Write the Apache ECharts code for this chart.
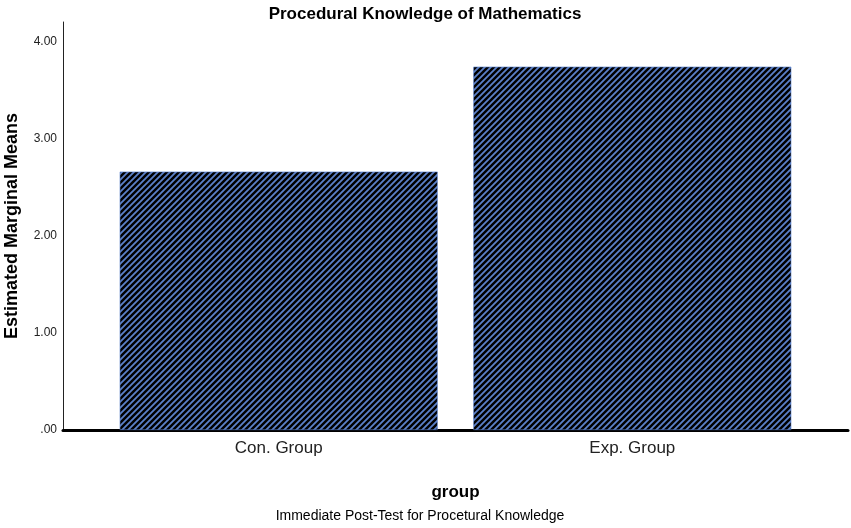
<!DOCTYPE html>
<html>
<head>
<meta charset="utf-8">
<script src="https://cdn.jsdelivr.net/npm/echarts@6/dist/echarts.min.js"></script>
<style>
  html, body { margin: 0; padding: 0; background: #fff; }
  #main { width: 851px; height: 528px; }
</style>
</head>
<body>
<div id="main"></div>
<script>
// data
var categories = ['Con. Group', 'Exp. Group']
var positions = [1, 2]
var means = [2.66, 3.74]
var yTicks = [0, 1, 2, 3, 4]

// hatch pattern for the bars ( "/" stripes, blue on black )
function stripePattern() {
  var t = 6
  var c = document.createElement('canvas')
  c.width = t
  c.height = t
  var ctx = c.getContext('2d')
  ctx.fillStyle = '#000'
  ctx.fillRect(0, 0, t, t)
  ctx.strokeStyle = '#5b80c9'
  ctx.lineWidth = 1.8
  ctx.beginPath()
  ctx.moveTo(-1, t + 1); ctx.lineTo(t + 1, -1)
  ctx.moveTo(-1, 1); ctx.lineTo(1, -1)
  ctx.moveTo(t - 1, t + 1); ctx.lineTo(t + 1, t - 1)
  ctx.stroke()
  return c
}

var font = '"Liberation Sans", Arial, sans-serif'
var chart = echarts.init(document.getElementById('main'))

var barData = []
for (var i = 0; i < positions.length; i++) {
  barData.push([positions[i], means[i]])
}

chart.setOption({
  animation: false,
  title: {
    text: 'Procedural Knowledge of Mathematics',
    left: 420,
    top: 1,
    textAlign: 'center',
    textStyle: { fontFamily: font, fontSize: 17, fontWeight: 'bold', color: '#000' }
  },
  graphic: [{
    type: 'text',
    x: 420,
    y: 509,
    style: {
      text: 'Immediate Post-Test for Procetural Knowledge',
      font: '14px ' + font,
      fill: '#000',
      textAlign: 'center'
    }
  }],
  grid: { left: 63, right: 3, top: 22, bottom: 98, outerBoundsMode: 'none', containLabel: false },
  xAxis: {
    type: 'value',
    min: 0.39,
    max: 2.61,
    name: 'group',
    nameLocation: 'middle',
    nameGap: 54,
    nameTextStyle: { fontFamily: font, fontSize: 17, fontWeight: 'bold', color: '#000' },
    splitLine: { show: false },
    axisTick: { show: false },
    axisLine: { show: true, lineStyle: { color: '#000', width: 3 } },
    axisLabel: {
      customValues: positions,
      margin: 10,
      fontFamily: font,
      fontSize: 17,
      color: '#222',
      formatter: function (v) { return categories[Math.round(v) - 1] }
    }
  },
  yAxis: {
    type: 'value',
    min: 0,
    max: 4.2,
    name: 'Estimated Marginal Means',
    nameLocation: 'middle',
    nameGap: 42,
    nameTextStyle: { fontFamily: font, fontSize: 18, fontWeight: 'bold', color: '#000' },
    splitLine: { show: false },
    axisTick: { show: false },
    axisLine: { show: true, lineStyle: { color: '#222', width: 1 } },
    axisLabel: {
      customValues: yTicks,
      margin: 6,
      fontFamily: font,
      fontSize: 12,
      color: '#222',
      formatter: function (v) { return v === 0 ? '.00' : v.toFixed(2) }
    }
  },
  series: [{
    type: 'bar',
    data: barData,
    barWidth: 318,
    itemStyle: {
      color: { image: stripePattern(), repeat: 'repeat' },
      borderColor: '#5b80c9',
      borderWidth: 0.6
    }
  }]
})
</script>
</body>
</html>
